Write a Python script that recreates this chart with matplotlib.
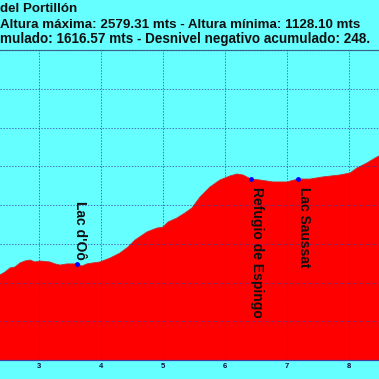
import matplotlib
matplotlib.use("Agg")
import matplotlib.pyplot as plt

# Distance (km) and altitude (m) of the visible part of the profile
dist_km = [2.371, 2.452, 2.532, 2.613, 2.694, 2.774, 2.855, 2.935, 3.016, 3.177,
           3.258, 3.339, 3.452, 3.613, 3.694, 3.774, 3.871, 3.984, 4.145, 4.306,
           4.435, 4.548, 4.742, 4.903, 5.000, 5.081, 5.226, 5.355, 5.468, 5.597,
           5.758, 5.919, 6.081, 6.194, 6.290, 6.419, 6.565, 6.774, 7.000, 7.177,
           7.371, 7.581, 7.855, 8.016, 8.129, 8.290, 8.452, 8.484]
altitude_m = [1439, 1454, 1475, 1480, 1501, 1511, 1516, 1506, 1511, 1506,
              1496, 1490, 1496, 1496, 1485, 1496, 1501, 1506, 1526, 1552,
              1583, 1619, 1661, 1681, 1686, 1712, 1733, 1759, 1785, 1841,
              1893, 1929, 1950, 1960, 1955, 1934, 1929, 1919, 1919, 1934,
              1934, 1945, 1955, 1965, 1991, 2017, 2048, 2053]

# Waypoints
wp_names = ["Lac d'Oô", "Refugio de Espingo", "Lac Saussat"]
wp_km = [3.613, 6.419, 7.177]
wp_alt = [1496, 1934, 1934]
wp_above = [True, False, False]

x_ticks = [3, 4, 5, 6, 7, 8]
y_ticks = [1000, 1200, 1400, 1600, 1800, 2000, 2200, 2400, 2600]

title_lines = ["del Portillón",
               "Altura máxima: 2579.31 mts - Altura mínima: 1128.10 mts",
               "mulado: 1616.57 mts - Desnivel negativo acumulado: 248."]

W = H = 379
fig = plt.figure(figsize=(3.79, 3.79), dpi=100)
fig.patch.set_facecolor("#66FFFF")

ax = fig.add_axes([0, (H - 360) / H, 1, 310 / H])
ax.set_facecolor("#66FFFF")
ax.fill_between(dist_km, altitude_m, 1000, color="#FF0000", lw=0, zorder=1)
ax.plot(dist_km, altitude_m, color="#d02828", lw=0.6, zorder=1.2)
ax.set_xlim(2.371, 8.484)
ax.set_ylim(1000, 2600)
ax.set_xticks(x_ticks)
ax.set_yticks(y_ticks)
ax.set_axisbelow(False)
ax.grid(True, color="#3a3aa0", alpha=0.7, linestyle=(0, (1.5, 1.5)), lw=0.7)
ax.tick_params(axis="x", length=0, pad=2, labelsize=5.5, labelcolor="#101040")
ax.tick_params(axis="y", length=0, labelleft=False)
for lbl in ax.get_xticklabels():
    lbl.set_fontweight("bold")
    lbl.set_fontfamily("Liberation Sans")
for side in ["left", "right"]:
    ax.spines[side].set_visible(False)
ax.spines["bottom"].set_color("#4040a0")
ax.spines["top"].set_color("#407890")
ax.spines["bottom"].set_linewidth(0.9)
ax.spines["top"].set_linewidth(0.9)

for name, k, a, above in zip(wp_names, wp_km, wp_alt, wp_above):
    ax.plot([k], [a], "o", color="#0000ff", ms=2.5, zorder=4)
    if above:
        ax.annotate(name, (k, a), xytext=(2, 3), textcoords="offset points",
                    rotation=270, rotation_mode="anchor", ha="right", va="center",
                    fontsize=10, fontweight="bold", family="Liberation Sans",
                    color="#101010", zorder=5)
    else:
        ax.annotate(name, (k, a), xytext=(4, -6), textcoords="offset points",
                    rotation=270, rotation_mode="anchor", ha="left", va="center",
                    fontsize=10, fontweight="bold", family="Liberation Sans",
                    color="#101010", zorder=5)

ys = [9, 25, 39.5]
xs = [0, 0, 0]
sizes = [9.6, 9.6, 9.75]
for t, y, x, s in zip(title_lines, ys, xs, sizes):
    fig.text(x / W, 1 - y / H, t, ha="left", va="center", fontsize=s,
             fontweight="bold", family="Liberation Sans", color="#101010")

fig.savefig("out.png", dpi=100, facecolor=fig.get_facecolor())
